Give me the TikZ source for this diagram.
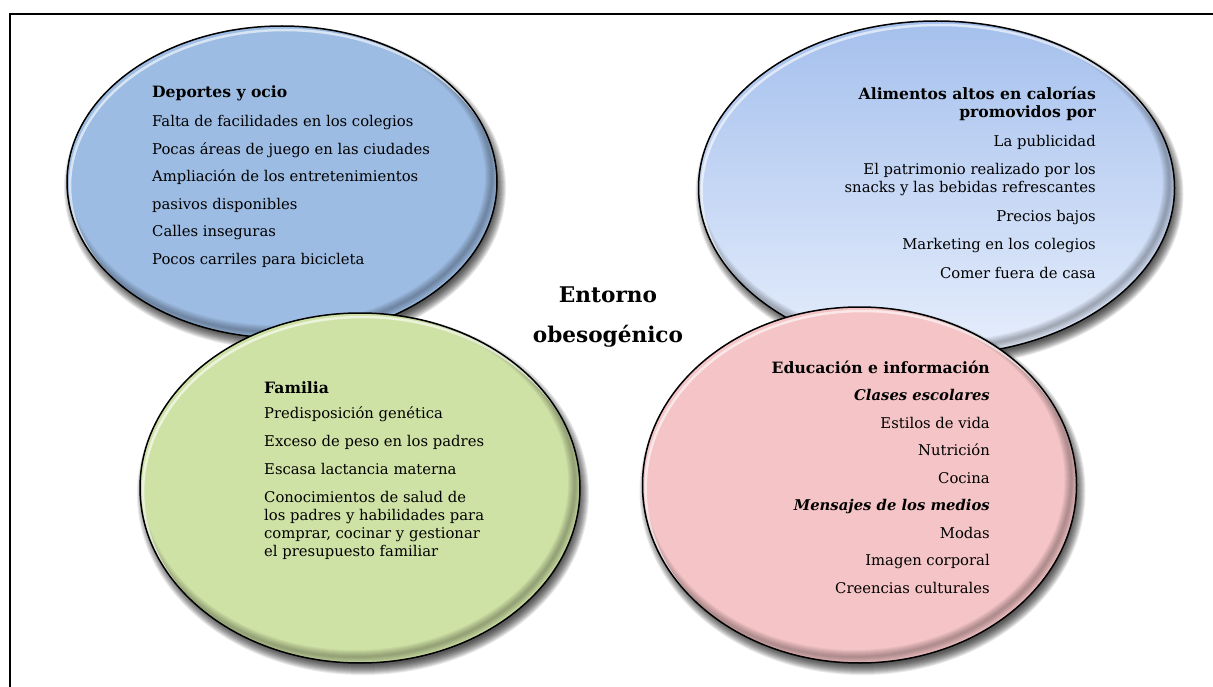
\documentclass[tikz,border=0pt]{standalone}
\usepackage{fontspec}
\setmainfont{DejaVu Serif}
\usepackage{array}
\definecolor{bluetl}{RGB}{157,188,227}
\definecolor{bluetrtop}{RGB}{165,192,237}
\definecolor{bluetrbot}{RGB}{230,238,252}
\definecolor{greenbl}{RGB}{207,226,166}
\definecolor{pinkbr}{RGB}{244,196,198}
\newcommand\bubble[5]{%
  \foreach \i in {0,...,10}{
    \fill[black, opacity=0.085] ({#1+3},{#2+6}) ellipse ({#3-4+\i} and {#4-4+\i});
  }
  \begin{scope}
    \clip (#1,#2) ellipse ({#3} and {#4});
    \path[#5] ({#1-#3},{#2-#4}) rectangle ({#1+#3},{#2+#4});
    \foreach \i in {1,...,7}{
      \draw[black, opacity=0.045, line width={2*\i}] ({#1-5},{#2-6}) ellipse ({#3} and {#4});
    }
    \draw[white, opacity=0.6, line width=2.5] ({#1+3},{#2+4}) ellipse ({#3} and {#4});
  \end{scope}
  \draw[black, line width=1.5] (#1,#2) ellipse ({#3} and {#4});
}
\newcommand\hd[1]{{\fontsize{15.6}{18}\selectfont\bfseries #1}}
\newcommand\hi[1]{{\fontsize{14.8}{18}\selectfont\bfseries\itshape #1}}
\tikzset{
  body/.style={inner sep=0pt, font=\fontsize{14.8}{18}\selectfont},
  title/.style={inner sep=0pt, font=\bfseries\fontsize{21.6}{40}\selectfont},
}
\renewcommand\arraystretch{1}
\begin{document}
\begin{tikzpicture}[x=1pt,y=-1pt]
\useasboundingbox (0,0) rectangle (1213,687);
\fill[white] (0,0) rectangle (1213,687);
\draw[line width=2pt] (10.3,687) -- (10.3,14.5) -- (1213,14.5);

\bubble{282}{182}{215}{156}{fill=bluetl}
\bubble{936.5}{188}{238}{167}{top color=bluetrtop, bottom color=bluetrbot}
\bubble{360}{488}{220}{175}{fill=greenbl}
\bubble{859.5}{485}{217}{178}{fill=pinkbr}

\node[body, anchor=base west] (deportes) at (152,98) {\begin{tabular}[t]{@{}l@{}}
\hd{Deportes y ocio}\\[11pt]
Falta de facilidades en los colegios\\[9.5pt]
Pocas áreas de juego en las ciudades\\[9.5pt]
Ampliación de los entretenimientos\\[9.5pt]
pasivos disponibles\\[9.5pt]
Calles inseguras\\[9.5pt]
Pocos carriles para bicicleta
\end{tabular}};

\node[body, anchor=base east] (alimentos) at (1096,100) {\begin{tabular}[t]{@{}r@{}}
\hd{Alimentos altos en calorías}\\
\hd{promovidos por}\\[10.5pt]
La publicidad\\[10.5pt]
El patrimonio realizado por los\\
snacks y las bebidas refrescantes\\[10.5pt]
Precios bajos\\[10.5pt]
Marketing en los colegios\\[10.5pt]
Comer fuera de casa
\end{tabular}};

\node[body, anchor=base west] (familia) at (264,393) {\begin{tabular}[t]{@{}l@{}}
\hd{Familia}\\[7pt]
Predisposición genética\\[10.5pt]
Exceso de peso en los padres\\[10pt]
Escasa lactancia materna\\[10pt]
Conocimientos de salud de\\
los padres y habilidades para\\
comprar, cocinar y gestionar\\
el presupuesto familiar
\end{tabular}};

\node[body, anchor=base east] (educacion) at (990,373) {\begin{tabular}[t]{@{}r@{}}
\hd{Educación e información}\\[9.5pt]
\hi{Clases escolares}\\[9.5pt]
Estilos de vida\\[9.5pt]
Nutrición\\[9.5pt]
Cocina\\[9.5pt]
\hi{Mensajes de los medios}\\[9.5pt]
Modas\\[9.5pt]
Imagen corporal\\[9.5pt]
Creencias culturales
\end{tabular}};

\node[title, anchor=base] (entorno) at (608,302) {\begin{tabular}[t]{@{}c@{}}
Entorno\\
obesogénico
\end{tabular}};
\end{tikzpicture}
\end{document}
